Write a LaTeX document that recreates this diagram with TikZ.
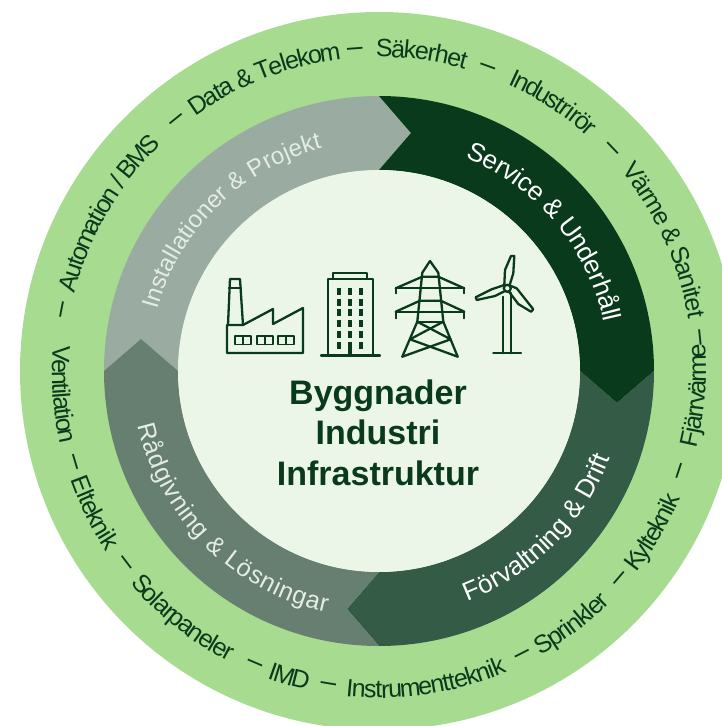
\documentclass[tikz,border=0pt]{standalone}
\usepackage{fontspec}
\setmainfont{Liberation Sans}
\definecolor{ringout}{HTML}{A6DB90}
\definecolor{core}{HTML}{EBF6E9}
\definecolor{ink}{HTML}{0A3A1C}
\definecolor{segA}{HTML}{9AACA2}
\definecolor{segB}{HTML}{0A3A1C}
\definecolor{segC}{HTML}{335B46}
\definecolor{segD}{HTML}{667F70}
\definecolor{labA}{HTML}{E4ECE4}
\tikzset{
  dashmark/.style={inner sep=0pt,text=ink,font=\fontsize{28}{28}\selectfont},
  archar/.style={inner sep=0pt,anchor=base},
  iconline/.style={draw=ink,line width=2.3pt,line join=round,line cap=round,fill=none},
  iconfill/.style={fill=ink,draw=none},
  iconscope/.style={shift={(-379pt,371pt)},x=1pt,y=-1pt}
}
% colour, tail angle, head angle, head tip, tail tip
\newcommand\arrowseg[5]{\fill[#1] (#2:275) arc[start angle=#2,end angle=#3,radius=275pt] -- (#4) -- (#3:201) arc[start angle=#3,end angle=#2,radius=201pt] -- (#5) -- cycle;}
\newdimen\arcW
\newdimen\arcX
\newdimen\arcC
\makeatletter
\def\arcStop{\arcStop}
\def\arcFont{\normalfont\fontsize{\arcSize}{\arcSize}\selectfont}
% glyph advance table (em)
\def\arcDefStep#1{\ifx#1\arcStop\else\expandafter\edef\csname arcw@\string#1\endcsname{\arcVal}\expandafter\arcDefStep\fi}
\def\arcDefMany#1#2{\def\arcVal{#1}\arcDefStep#2\arcStop}
\arcDefMany{0.556}{abdeghnopquäåöL}
\arcDefMany{0.500}{cksvxyzJ}
\arcDefMany{0.222}{ijl}
\arcDefMany{0.278}{ft/I~}
\arcDefMany{0.333}{r}
\arcDefMany{0.833}{mM}
\arcDefMany{0.722}{wCDHNRU}
\arcDefMany{0.667}{ABEKPSVXY\&}
\arcDefMany{0.611}{FTZ}
\def\arcMeasure#1{%
  \arcC=\arcSize pt\relax
  \arcC=\csname arcw@\string#1\endcsname\arcC\relax}
\def\arcSum#1{\ifx#1\arcStop\else\arcMeasure{#1}\advance\arcW by \arcC\relax\expandafter\arcSum\fi}
\def\arcPut#1{\ifx#1\arcStop\else\arcOne{#1}\expandafter\arcPut\fi}
\def\arcOne#1{%
  \arcMeasure{#1}%
  \edef\arcMid{\strip@pt\dimexpr\arcX+\arcC/2\relax}%
  \pgfmathsetmacro\arcAng{\arcFrom+(\arcTo-\arcFrom)*(\arcMid/\arcTotal)}%
  \pgfmathsetmacro\arcRot{\arcAng+\arcOff}%
  \node[archar,text=\arcCol,font=\arcFont,rotate=\arcRot] at (\arcAng:\arcRad) {#1};%
  \advance\arcX by \arcC\relax}
% text, colour, size, radius, start angle, end angle
\newcommand\arctext[6]{%
  \def\arcCol{#2}\def\arcSize{#3}\def\arcRad{#4}\def\arcFrom{#5}\def\arcTo{#6}%
  \arcW=0pt\relax
  \arcSum#1\arcStop
  \edef\arcTotal{\strip@pt\arcW}%
  \pgfmathsetmacro\arcOff{(#6<#5)?-90:90}%
  \arcX=0pt\relax
  \arcPut#1\arcStop
}
\makeatother
\newcommand\topdash[1]{\node[dashmark,rotate=#1-90] at (#1:320) {–};}
\newcommand\botdash[1]{\node[dashmark,rotate=#1+90] at (#1:320) {–};}
\begin{document}
\begin{tikzpicture}[x=1pt,y=1pt]
\useasboundingbox (-379,-355) rectangle (343,371);
\clip (-379,-355) rectangle (343,371);
\fill[ringout] (0,0) circle[radius=359pt];
\arrowseg{segA}{180}{90}{32,238}{-238,32}
\arrowseg{segB}{90}{0}{238,-32}{32,238}
\arrowseg{segC}{0}{-90}{-32,-238}{238,-32}
\arrowseg{segD}{-90}{-180}{-238,32}{-32,-238}
\fill[core] (0,0) circle[radius=201pt];
% ring labels
\arctext{Installationer~\&~Projekt}{labA}{24}{230}{164.6}{104.3}
\arctext{Service~\&~Underhåll}{white}{26}{230}{67.9}{12.3}
\arctext{Förvaltning~\&~Drift}{white}{26}{247}{291.1}{339.4}
\arctext{Rådgivning~\&~Lösningar}{labA}{25}{247}{192.6}{257.8}
% outer labels, upper half
\arctext{Automation~/~BMS}{ink}{25}{314}{165.4}{134.1}
\arctext{Data~\&~Telekom}{ink}{25}{314}{125.6}{97.1}
\arctext{Säkerhet}{ink}{25}{314}{90.4}{74.2}
\arctext{Industrirör}{ink}{25}{314}{65.7}{48.4}
\arctext{Värme~\&~Sanitet}{ink}{25}{314}{39.4}{9.6}
\topdash{169}\topdash{128.9}\topdash{94.3}\topdash{70.3}\topdash{43.6}\topdash{5.9}
% outer labels, lower half
\arctext{Ventilation}{ink}{25}{327}{175.8}{192.7}
\arctext{Elteknik}{ink}{25}{327}{199.6}{213.4}
\arctext{Solarpaneler}{ink}{25}{327}{220.6}{242.6}
\arctext{IMD}{ink}{25}{327}{250}{257.2}
\arctext{Instrumentteknik}{ink}{25}{327}{264.2}{292.9}
\arctext{Sprinkler}{ink}{25}{327}{299.8}{314.9}
\arctext{Kylteknik}{ink}{25}{327}{322.1}{336.9}
\arctext{Fjärrvärme}{ink}{25}{327}{346.5}{364.6}
\botdash{196.7}\botdash{217.2}\botdash{247}\botdash{260.8}\botdash{296.9}\botdash{319.3}\botdash{341.6}
% centre text
\node[align=center,text=ink,font=\fontsize{34}{40.5}\selectfont\bfseries] (hub) at (-1,-61.5) {Byggnader\\Industri\\Infrastruktur};
% icons
\begin{scope}[iconscope]
 % factory
 \draw[iconline] (227,325) -- (227,353) -- (303,353) -- (303,308) -- (273,324) -- (273,309) -- (243,325) -- cycle;
 \draw[iconline] (228,325) -- (230,279) -- (240,279) -- (243,325);
 \draw[iconline] (229,288) -- (241,288);
 \foreach \wx in {235,257,278}{
  \draw[iconline,line width=1.8pt] (\wx,336) rectangle ++(16,8.5);
  \draw[iconline,line width=1.8pt] (\wx+8,336) -- ++(0,8.5);
 }
 % building
 \draw[iconline] (328,355) -- (328,279) -- (373,279) -- (373,355);
 \draw[iconline] (321,355.5) -- (380,355.5);
 \draw[iconline] (333,279) -- (333,273) -- (367,273) -- (367,279);
 \foreach \wx in {339.5,350.5,361.5}{
  \foreach \wy in {291.7,302.3,312.3,323.3,334.3}{
   \fill[iconfill] (\wx-2,\wy-3.3) rectangle ++(4,6.6);
  }
 }
 \fill[iconfill] (339.5-2,345.3-3.3) rectangle ++(4,6.6);
 \fill[iconfill] (361.5-2,345.3-3.3) rectangle ++(4,6.6);
 \fill[iconfill] (348.5,342) rectangle (352.5,355);
 % pylon
 \draw[iconline] (402.3,356.7) -- (417.3,321.7) -- (422.3,272.7) -- (430,261) -- (438.3,272.7) -- (443.3,321.7) -- (457.7,356.7);
 \draw[iconline] (395.7,293.3) -- (395.7,288.3) -- (464.3,288.3) -- (464.3,293.3);
 \draw[iconline] (395.7,288.3) -- (422.3,276.7) -- (438.3,276.7) -- (464.3,288.3);
 \draw[iconline] (395.7,318.3) -- (395.7,311.7) -- (464.3,311.7) -- (464.3,318.3);
 \draw[iconline] (395.7,311.7) -- (420,300.7) -- (440.7,300.7) -- (464.3,311.7);
 \draw[iconline] (417.3,321.7) -- (443.3,321.7);
 \draw[iconline] (417.3,321.7) -- (450.7,339.3) -- (402.3,356.7);
 \draw[iconline] (443.3,321.7) -- (410,339.3) -- (457.7,356.7);
 % turbine
 \draw[iconline] (503.3,296.7) -- (503.3,353.3);
 \draw[iconline] (511,293) -- (511,353.3);
 \draw[iconline] (493.3,353.3) -- (521,353.3);
 \draw[iconline] (507.3,288.3) circle[radius=3.5pt];
 \draw[iconline] (504.3,285) -- (505,270) -- (511,256) -- (514.3,256) -- (513.3,273.3) -- (509.7,285);
 \draw[iconline] (504.3,285) -- (491.7,289.3) -- (475.7,297.3) -- (476.7,300) -- (495,296) -- (505.7,290.7);
 \draw[iconline] (511,286) -- (516.7,288.3) -- (533.3,309.3) -- (531,311.7) -- (518.3,304) -- (509,291.7);
\end{scope}
\end{tikzpicture}
\end{document}
